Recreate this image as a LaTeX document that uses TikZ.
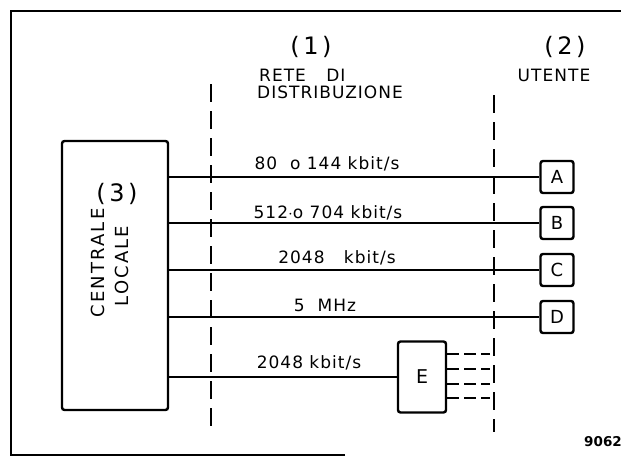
\documentclass[tikz,border=0pt]{standalone}
\usepackage{fontspec}
\setmainfont{DejaVu Sans}
\newfontfamily\lblfont[LetterSpace=6]{DejaVu Sans}
\newfontfamily\widefont[LetterSpace=12]{DejaVu Sans}
\newfontfamily\numfont[LetterSpace=15]{DejaVu Sans}
\begin{document}
\begin{tikzpicture}[x=1pt,y=-1pt,
  lbl/.style={font=\lblfont\fontsize{17}{17}\selectfont, inner sep=1pt},
  hdr/.style={font=\lblfont\fontsize{17}{17}\selectfont, inner sep=1pt},
  num/.style={font=\numfont\fontsize{24}{24}\selectfont, inner sep=1pt},
  vlbl/.style={font=\widefont\fontsize{18}{18}\selectfont, inner sep=1pt, rotate=90},
  thickbox/.style={draw, line width=2.4pt, rounded corners=2.5pt},
  userbox/.style={thickbox, minimum width=33pt, minimum height=32pt, font=\fontsize{18}{18}\selectfont, inner sep=0pt},
  divider/.style={line width=1.1pt, dash pattern=on 18pt off 9pt},
  wire/.style={line width=1.2pt},
  stub/.style={line width=1.2pt, dash pattern=on 12pt off 5pt}]
\useasboundingbox (0,0) rectangle (630,458);
% frame
\draw[line width=1.1pt] (345,455) -- (11,455) -- (11,11) -- (621,11);
% headers
\node[num] (n1) at (311,47) {(1)};
\node[hdr, anchor=west] (h1a) at (258,75) {RETE\hspace{1.2em}DI};
\node[hdr, anchor=west] (h1b) at (256,92) {DISTRIBUZIONE};
\node[num] (n2) at (565,47) {(2)};
\node[hdr] (h2) at (554,75) {UTENTE};
% dividers
\coordinate (d1t) at (211,84); \coordinate (d1b) at (211,432);
\coordinate (d2t) at (494,95); \coordinate (d2b) at (494,432);
\draw[divider] (d1t) -- (d1b);
\draw[divider] (d2t) -- (d2b);
% central office
\node[thickbox, minimum width=106pt, minimum height=269pt] (CL) at (115,275.5) {};
\node[num] (n3) at (117,194) {(3)};
\node[vlbl] (cen) at (98,263) {CENTRALE};
\node[vlbl] (loc) at (122,266) {LOCALE};
% users
\node[userbox] (A) at (557,177) {A};
\node[userbox] (B) at (557,223) {B};
\node[userbox] (C) at (557,270) {C};
\node[userbox] (D) at (557,317) {D};
\node[thickbox, minimum width=48pt, minimum height=71pt, font=\fontsize{19}{19}\selectfont, inner sep=0pt] (E) at (422,377) {E};
% wires
\draw[wire] (CL.east |- A) -- (A.west);
\draw[wire] (CL.east |- B) -- (B.west);
\draw[wire] (CL.east |- C) -- (C.west);
\draw[wire] (CL.east |- D) -- (D.west);
\draw[wire] (CL.east |- E) -- (E.west);
% labels
\node[lbl] (la) at (327,164) {80\ \ o 144 kbit/s};
\node[lbl] (lb) at (328,213) {512$\cdot$o 704 kbit/s};
\node[lbl] (lc) at (337,258) {2048\ \ \ kbit/s};
\node[lbl] (ld) at (325,305) {5\ \ MHz};
\node[lbl] (le) at (309,363) {2048 kbit/s};
% E outputs
\coordinate (o1) at (490,354); \coordinate (o2) at (490,369);
\coordinate (o3) at (490,384); \coordinate (o4) at (490,398);
\draw[stub] (E.east |- o1) -- (o1);
\draw[stub] (E.east |- o2) -- (o2);
\draw[stub] (E.east |- o3) -- (o3);
\draw[stub] (E.east |- o4) -- (o4);
% figure number
\node[font=\bfseries\fontsize{13.5}{13.5}\selectfont, inner sep=0pt] (fig) at (603,442) {9062};
\end{tikzpicture}
\end{document}
